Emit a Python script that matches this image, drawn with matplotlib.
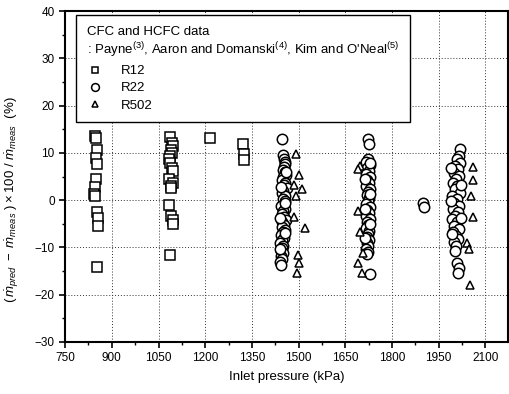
import matplotlib
matplotlib.use('Agg')
import matplotlib.pyplot as plt
from matplotlib.ticker import MultipleLocator

plt.rcParams['font.family'] = ['Liberation Sans', 'DejaVu Sans']
plt.rcParams['mathtext.fontset'] = 'custom'
plt.rcParams['mathtext.rm'] = 'Liberation Sans'
plt.rcParams['mathtext.it'] = 'Liberation Sans:italic'

# R12 (squares)
p_r12 = [846, 850, 852, 848, 852, 850, 846, 844, 846, 852, 855, 856, 852,
         1088, 1092, 1095, 1090, 1094, 1086, 1084, 1088, 1093, 1096, 1084, 1098, 1090, 1091,
         1085, 1090, 1096, 1097, 1087,
         1216, 1322, 1324, 1326]
d_r12 = [13.5, 13.1, 10.6, 8.9, 7.6, 4.4, 2.7, 1.3, 0.8, -2.5, -3.8, -5.5, -14.2,
         13.3, 12.1, 11.4, 10.7, 10.0, 9.3, 8.6, 7.9, 6.8, 6.1, 4.4, 3.7, 3.0, 2.5,
         -1.1, -3.4, -4.1, -5.1, -11.5,
         13.1, 11.8, 9.7, 8.4]

# R22 (circles)
p_r22 = [1448, 1450, 1452, 1455, 1458, 1453, 1449, 1456, 1460, 1451, 1447, 1457, 1454, 1462,
         1450, 1446, 1455, 1449, 1458, 1452, 1445, 1456, 1450, 1447, 1454, 1459, 1448, 1452,
         1446, 1455, 1450, 1444, 1453, 1448, 1442, 1451, 1446, 1443, 1449, 1444, 1446, 1442,
         1445, 1459, 1444, 1458, 1442, 1457, 1440,
         1722, 1727, 1724, 1718, 1728, 1721, 1726, 1716, 1730, 1720, 1725, 1717, 1729, 1722,
         1719, 1727, 1723, 1716, 1728, 1720, 1725, 1718, 1729, 1721, 1724, 1717, 1727, 1722,
         1719, 1726, 1720, 1724, 1718, 1723, 1720, 1731, 1713, 1731, 1714, 1730, 1715, 1730,
         1901, 1903,
         2018, 2016, 2008, 2020, 2003, 2012, 1998, 2015, 2006, 1995, 2010, 2002, 2018, 1992,
         2008, 2000, 2014, 1996, 2011, 2004, 1993, 2009, 2001, 2016, 1997, 2007, 2012, 1999,
         2005, 2003, 1990, 2022, 1989, 2021, 1994, 2010, 2016, 2012]
d_r22 = [12.9, 9.5, 8.7, 8.1, 7.6, 7.0, 6.4, 5.9, 5.3, 4.8, 4.2, 3.6, 3.1, 2.5,
         2.0, 1.5, 0.9, 0.3, -0.2, -0.8, -1.3, -1.9, -2.4, -3.0, -3.5, -4.1, -4.6, -5.2,
         -5.7, -6.3, -6.8, -7.4, -7.9, -8.5, -9.0, -9.6, -10.1, -10.7, -11.2, -11.8, -12.4, -13.0,
         -13.7, 6.0, 2.8, -0.5, -3.8, -7.0, -10.4,
         12.9, 11.8, 8.7, 8.0, 7.4, 6.8, 6.1, 5.5, 4.9, 4.2, 3.6, 3.0, 2.3, 1.7,
         1.1, 0.4, -0.2, -0.8, -1.5, -2.1, -2.7, -3.4, -4.0, -4.6, -5.3, -5.9, -6.5, -7.2,
         -7.8, -8.4, -9.1, -9.7, -10.3, -11.0, -11.4, 7.9, 4.5, 1.4, -1.8, -5.0, -8.1, -15.6,
         -0.6, -1.5,
         10.8, 9.3, 8.6, 7.9, 7.2, 6.5, 5.8, 5.1, 4.4, 3.7, 3.0, 2.3, 1.6, 0.9,
         0.2, -0.5, -1.2, -1.9, -2.6, -3.3, -4.0, -4.7, -5.4, -6.1, -6.8, -7.5, -8.2, -8.9,
         -9.6, -10.8, 6.9, 3.3, -0.1, -3.7, -7.1, -13.3, -14.4, -15.4]

# R502 (triangles)
p_r502 = [1492, 1502, 1512, 1486, 1492, 1486, 1521, 1499, 1502, 1496,
          1698, 1692, 1692, 1698, 1708, 1692, 1705,
          2061, 2061, 2055, 2061, 2042, 2048, 2052]
d_r502 = [9.7, 5.3, 2.4, 3.2, 0.8, -3.6, -5.9, -11.6, -13.3, -15.4,
          7.2, 6.6, -2.3, -6.8, -11.2, -13.3, -15.4,
          7.0, 4.2, 0.8, -3.6, -9.1, -10.4, -18.0]

fig = plt.figure(figsize=(5.09, 3.94), dpi=100)
ax = fig.add_axes([0.128, 0.132, 0.870, 0.840])

mk = dict(linestyle='none', markerfacecolor='white', markeredgecolor='black', markeredgewidth=1.1)
ax.plot(p_r12, d_r12, marker='s', markersize=6.5, label='R12', **mk)
ax.plot(p_r22, d_r22, marker='o', markersize=7.5, label='R22', **mk)
ax.plot(p_r502, d_r502, marker='^', markersize=5.5, label='R502', **mk)

ax.set_xlim(750, 2173)
ax.set_ylim(-30, 40)
ax.xaxis.set_major_locator(MultipleLocator(150))
ax.xaxis.set_minor_locator(MultipleLocator(75))
ax.yaxis.set_major_locator(MultipleLocator(10))
ax.yaxis.set_minor_locator(MultipleLocator(5))
ax.tick_params(which='major', direction='out', length=4, width=1.2, labelsize=8.5)
ax.tick_params(which='minor', direction='out', length=2.5, width=1.0)
ax.tick_params(top=False, right=False)
ax.grid(True, which='major', color='#333333', linestyle=(0, (1, 2)), linewidth=0.7)
for s in ax.spines.values():
    s.set_linewidth(1.5)

ax.set_xlabel('Inlet pressure (kPa)', fontsize=9.5, labelpad=5)
ax.set_ylabel(r'$(\,\dot{m}_{pred}\ -\ \dot{m}_{meas}\ )\times 100\ /\ \dot{m}_{meas}$  (%)',
              fontsize=9.5)
ax.yaxis.set_label_coords(-0.1, 0.43)

title = ('CFC and HCFC data\n'
         r": Payne$^{(3)}$, Aaron and Domanski$^{(4)}$, Kim and O'Neal$^{(5)}$")
leg = ax.legend(loc='upper left', bbox_to_anchor=(0.025, 0.988), borderaxespad=0,
                title=title, alignment='left', fontsize=9.5, title_fontsize=9.5,
                fancybox=False, framealpha=1, edgecolor='black', handletextpad=1.3,
                labelspacing=0.38, handlelength=1.3, borderpad=0.8, markerscale=0.75)
leg.get_frame().set_linewidth(1.0)

fig.savefig('out.png', dpi=100)
